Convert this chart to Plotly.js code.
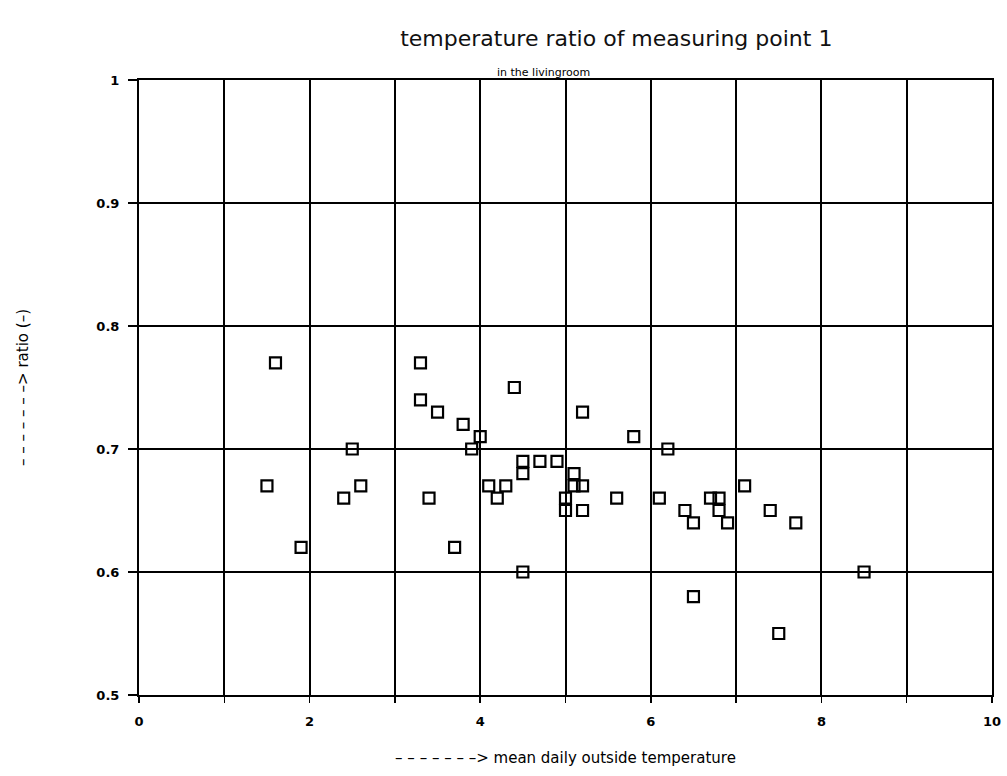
<!DOCTYPE html>
<html>
<head>
<meta charset="utf-8">
<script src="https://cdn.plot.ly/plotly-3.0.1.min.js"></script>
<style>html,body{margin:0;padding:0;background:#fff;}#chart{width:1007px;height:776px;}</style>
</head>
<body>
<div id="chart"></div>
<script>
// mean daily outside temperature (x) and temperature ratio (y)
const temperature = [1.5, 1.6, 1.9, 2.4, 2.5, 2.6, 3.3, 3.3, 3.4, 3.5, 3.7, 3.8, 3.9, 4.0, 4.1, 4.2, 4.3, 4.4, 4.5, 4.5, 4.5, 4.7, 4.9, 5.0, 5.0, 5.1, 5.1, 5.2, 5.2, 5.2, 5.6, 5.8, 6.1, 6.2, 6.4, 6.5, 6.5, 6.7, 6.8, 6.8, 6.9, 7.1, 7.4, 7.5, 7.7, 8.5];
const ratio = [0.67, 0.77, 0.62, 0.66, 0.70, 0.67, 0.77, 0.74, 0.66, 0.73, 0.62, 0.72, 0.70, 0.71, 0.67, 0.66, 0.67, 0.75, 0.69, 0.68, 0.60, 0.69, 0.69, 0.66, 0.65, 0.68, 0.67, 0.67, 0.65, 0.73, 0.66, 0.71, 0.66, 0.70, 0.65, 0.64, 0.58, 0.66, 0.66, 0.65, 0.64, 0.67, 0.65, 0.55, 0.64, 0.60];
const xTickVals = [0, 1, 2, 3, 4, 5, 6, 7, 8, 9, 10];
const xTickText = ['0', '', '2', '', '4', '', '6', '', '8', '', '10'];
const yTickVals = [0.5, 0.6, 0.7, 0.8, 0.9, 1.0];
const yTickText = ['0.5', '0.6', '0.7', '0.8', '0.9', '1'];

const trace = {
  x: temperature,
  y: ratio,
  mode: 'markers',
  type: 'scatter',
  marker: {symbol: 'square-open', size: 11, color: '#000', line: {color: '#000', width: 2.2}},
  hoverinfo: 'x+y'
};

const tickFont = {family: 'DejaVu Sans', size: 13, color: '#000', weight: 'bold'};
const arrow = '\u2013 \u2013 \u2013 \u2013 \u2013 \u2013 \u2013>';

const layout = {
  width: 1007, height: 776,
  margin: {l: 139, r: 15, t: 80, b: 81},
  paper_bgcolor: '#fff', plot_bgcolor: '#fff',
  showlegend: false,
  title: {
    text: 'temperature ratio of measuring point 1',
    font: {family: 'DejaVu Sans', size: 22, color: '#111'},
    x: 0.612, xanchor: 'center', y: 0.951, yanchor: 'middle', yref: 'container'
  },
  xaxis: {
    range: [0, 10], tickvals: xTickVals, ticktext: xTickText,
    showgrid: true, gridcolor: '#000', gridwidth: 2,
    showline: true, linecolor: '#000', linewidth: 2, mirror: true,
    ticks: 'outside', ticklen: 6, tickwidth: 1.5, tickcolor: '#000',
    ticklabelstandoff: 7, tickfont: tickFont, zeroline: false,
    title: {text: arrow + ' mean daily outside temperature', font: {family: 'DejaVu Sans', size: 15, color: '#000'}, standoff: 25}
  },
  yaxis: {
    range: [0.5, 1.0], tickvals: yTickVals, ticktext: yTickText,
    showgrid: true, gridcolor: '#000', gridwidth: 2,
    showline: true, linecolor: '#000', linewidth: 2, mirror: true,
    ticks: 'outside', ticklen: 9, tickwidth: 1.5, tickcolor: '#000',
    ticklabelstandoff: 6, tickfont: tickFont, zeroline: false,
    title: {text: arrow + ' ratio (\u2013)', font: {family: 'DejaVu Sans', size: 15, color: '#000'}, standoff: 64}
  },
  annotations: [{
    text: 'in the livingroom', xref: 'paper', yref: 'paper', x: 0.474, y: 1,
    xanchor: 'center', yanchor: 'bottom', yshift: -1, showarrow: false,
    font: {family: 'DejaVu Sans', size: 11, color: '#000'}
  }]
};

Plotly.newPlot('chart', [trace], layout, {displayModeBar: false, staticPlot: true});
</script>
</body>
</html>
